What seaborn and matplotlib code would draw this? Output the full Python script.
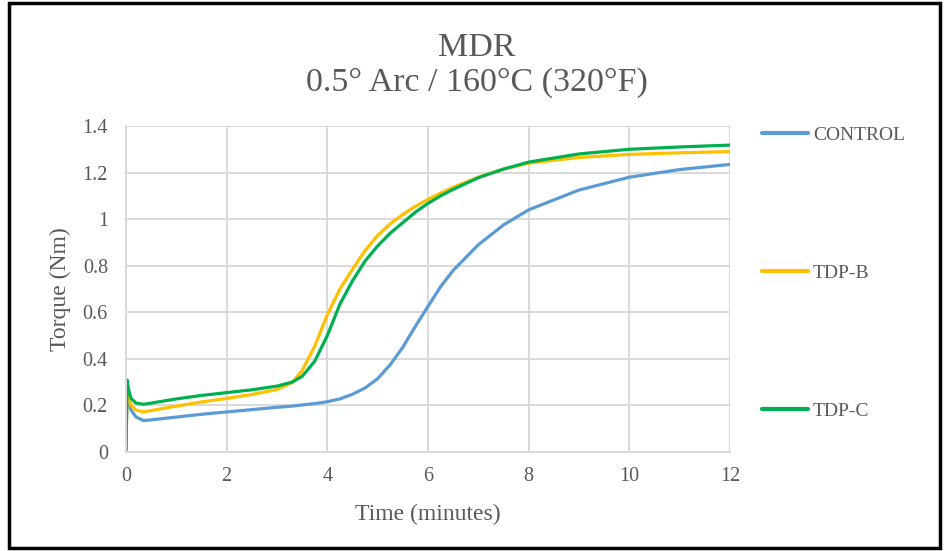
import matplotlib
matplotlib.use("Agg")
import matplotlib.pyplot as plt
import seaborn as sns
import pandas as pd
from matplotlib.patches import Rectangle

# ---- data ----
time_min = [0, 0.02, 0.05, 0.1, 0.2, 0.35, 0.5, 1, 1.5, 2, 2.5, 3, 3.3, 3.5, 3.75,
            4, 4.25, 4.5, 4.75, 5, 5.25, 5.5, 5.75, 6, 6.25, 6.5, 7, 7.5, 8, 9, 10, 11, 12]
control = [0, 0.25, 0.22, 0.18, 0.15, 0.135, 0.138, 0.15, 0.162, 0.172, 0.182, 0.192, 0.197,
           0.202, 0.208, 0.216, 0.228, 0.248, 0.275, 0.315, 0.375, 0.45, 0.54, 0.625, 0.71,
           0.78, 0.89, 0.975, 1.04, 1.125, 1.18, 1.213, 1.235]
tdp_b = [0, 0.28, 0.24, 0.2, 0.18, 0.172, 0.178, 0.197, 0.215, 0.23, 0.247, 0.268, 0.298,
         0.35, 0.455, 0.59, 0.70, 0.785, 0.865, 0.93, 0.98, 1.02, 1.055, 1.085, 1.112,
         1.137, 1.18, 1.215, 1.24, 1.265, 1.278, 1.285, 1.29]
tdp_c = [0, 0.31, 0.27, 0.23, 0.21, 0.205, 0.21, 0.228, 0.243, 0.255, 0.267, 0.283, 0.30,
         0.325, 0.39, 0.50, 0.635, 0.735, 0.82, 0.885, 0.94, 0.985, 1.03, 1.068, 1.10,
         1.128, 1.178, 1.215, 1.245, 1.28, 1.30, 1.31, 1.318]
series_names = ["CONTROL", "TDP-B", "TDP-C"]
x_ticks = [0, 2, 4, 6, 8, 10, 12]
y_ticks = [0, 0.2, 0.4, 0.6, 0.8, 1.0, 1.2, 1.4]
y_tick_labels = ["0", "0.2", "0.4", "0.6", "0.8", "1", "1.2", "1.4"]

df = pd.DataFrame({
    "time": time_min * 3,
    "torque": control + tdp_b + tdp_c,
    "series": [n for n, s in zip(series_names, [control, tdp_b, tdp_c]) for _ in s],
})

sns.set_theme(style="whitegrid")
plt.rcParams["font.family"] = ["Liberation Serif", "DejaVu Serif"]
txt = "#595959"
grid = "#d9d9d9"

fig = plt.figure(figsize=(9.48, 5.51), dpi=100)
ax = fig.add_axes([126 / 948, 1 - 452 / 551, (730 - 126) / 948, (452 - 126) / 551])

palette = {"CONTROL": "#5B9BD5", "TDP-B": "#FFC000", "TDP-C": "#00B050"}
sns.lineplot(data=df, x="time", y="torque", hue="series", palette=palette,
             hue_order=series_names, linewidth=2.3, sort=False, estimator=None, ax=ax)

ax.set_xlim(0, 12)
ax.set_ylim(0, 1.4)
ax.set_xticks(x_ticks)
ax.set_xticklabels([str(t) for t in x_ticks])
ax.set_yticks(y_ticks)
ax.set_yticklabels(y_tick_labels)
ax.tick_params(axis="both", colors=txt, labelsize=14.5, length=0)
ax.tick_params(axis="y", pad=13)
ax.tick_params(axis="x", pad=11)
ax.grid(True, color=grid, linewidth=1.4)
for s in ["top", "right"]:
    ax.spines[s].set_visible(False)
for s in ["left", "bottom"]:
    ax.spines[s].set_color(grid)
    ax.spines[s].set_linewidth(1.4)

ax.set_xlabel("Time (minutes)", fontsize=17, color=txt, labelpad=13)
ax.set_ylabel("Torque (Nm)", fontsize=17, color=txt, labelpad=8)

leg = ax.legend(loc="upper left", bbox_to_anchor=(762 / 948, 1 - 126 / 551),
                bbox_transform=fig.transFigure, frameon=False, fontsize=14,
                labelspacing=6.2, handlelength=2.37, handletextpad=0.26,
                labelcolor=txt, borderaxespad=0, borderpad=0)
for line in leg.get_lines():
    line.set_linewidth(3)

fig.text(0.503, 1 - 48 / 551, "MDR", ha="center", va="center", fontsize=24.5, color=txt)
fig.text(0.503, 1 - 83 / 551, "0.5° Arc / 160°C (320°F)", ha="center", va="center",
         fontsize=24.5, color=txt)

fig.patches.append(Rectangle((9 / 948, 3 / 551), (940 - 9) / 948, (548 - 3) / 551,
                             transform=fig.transFigure, fill=False, edgecolor="black",
                             linewidth=2.5))

fig.savefig("out.png", dpi=100)
